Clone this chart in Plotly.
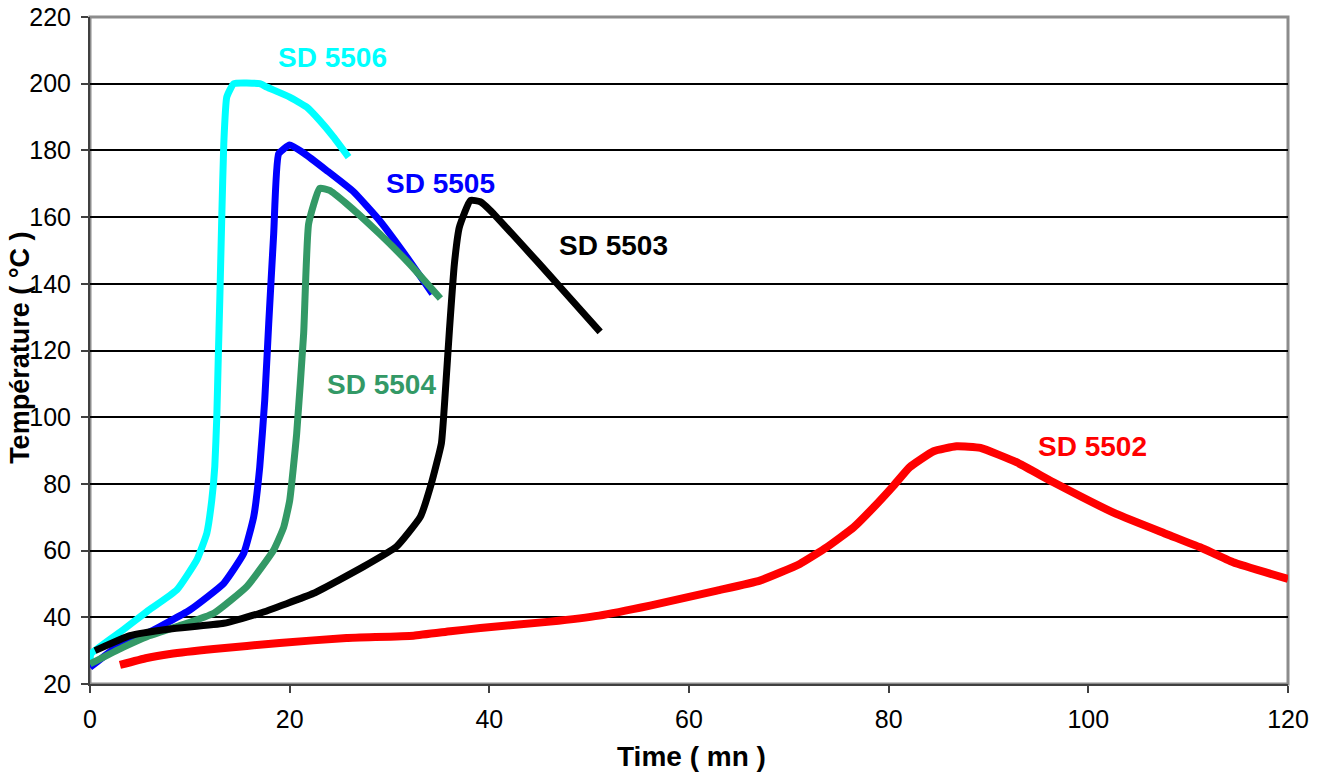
import plotly.graph_objects as go

# ---- data ----
x_5506 = [0, 0.1, 3.3, 5.7, 8.7, 10.7, 11.7, 12.2, 12.5, 12.7, 12.85, 13.0, 13.2, 13.4, 13.7, 14.4, 17.0, 17.7, 20.0, 21.7, 23.0, 24.4, 25.9]
y_5506 = [26, 29, 36.2, 41.7, 48.2, 57.2, 65.2, 75.2, 85.2, 100, 118, 135, 160, 182, 196, 200, 200, 199, 196, 193, 189, 184, 178]

x_5505 = [0, 3.3, 5.7, 10.0, 13.4, 15.4, 16.4, 17.0, 17.5, 17.9, 18.4, 18.9, 20.0, 21.5, 23.7, 26.4, 29.0, 31.5, 34.3]
y_5505 = [25, 32.5, 35.2, 42.2, 50.2, 59.2, 70.2, 85, 105, 128, 155, 179, 181.6, 179, 174, 167.6, 159, 149, 137]

x_5504 = [0, 3.3, 5.7, 9.0, 12.4, 15.7, 18.4, 19.4, 20.0, 20.7, 21.4, 21.9, 23.0, 24.0, 25.7, 29.0, 32.0, 35.1]
y_5504 = [26, 31, 34.2, 37.5, 41.2, 49.2, 60.2, 67, 75, 95, 125, 158, 168.6, 168, 164, 155, 146, 135.6]

x_5503 = [0.5, 4.0, 8.0, 13.4, 17.0, 22.4, 27.4, 30.7, 33.1, 34.2, 35.2, 35.6, 36.0, 36.5, 37.0, 38.1, 39.1, 40.1, 44.7, 47.4, 51.1]
y_5503 = [30, 34.5, 36.5, 38.2, 41.2, 47.2, 55.2, 61.2, 70.2, 80.2, 92.2, 108, 126, 146, 157, 165, 164.6, 162, 147, 138, 125.6]

x_5502 = [3.0, 5.7, 8.0, 12.4, 19.0, 25.7, 32.4, 36.1, 39.1, 46.1, 51.0, 56.1, 62.8, 67.1, 71.1, 73.8, 76.5, 78.5, 80.5, 82.1, 84.5, 86.8, 89.2, 92.8, 96.5, 102.8, 107.8, 111.2, 114.5, 120.0]
y_5502 = [25.7, 27.8, 29.0, 30.5, 32.3, 33.8, 34.5, 35.8, 36.8, 38.7, 40.5, 43.5, 48.0, 51.0, 56.0, 61.0, 67.0, 73.0, 79.5, 85.0, 89.8, 91.3, 90.8, 86.5, 80.5, 71.0, 65.0, 61.0, 56.5, 51.5]

series_names = ["SD 5506", "SD 5505", "SD 5504", "SD 5503", "SD 5502"]
series_colors = ["#00FFFF", "#0000FF", "#339966", "#000000", "#FF0000"]
label_x = [24.3, 35.1, 29.2, 52.4, 100.4]
label_y = [208, 170.2, 109.7, 151.6, 91.1]

x_ticks = [0, 20, 40, 60, 80, 100, 120]
y_ticks = [20, 40, 60, 80, 100, 120, 140, 160, 180, 200, 220]

FONT = "Liberation Sans, Arial, sans-serif"
line_widths = [7, 7, 7, 7, 8]

fig = go.Figure()
data = [(x_5506, y_5506), (x_5505, y_5505), (x_5504, y_5504), (x_5503, y_5503), (x_5502, y_5502)]
for (xs, ys), name, col, lw in zip(data, series_names, series_colors, line_widths):
    fig.add_trace(go.Scatter(x=xs, y=ys, mode="lines", name=name,
                             line=dict(color=col, width=lw, shape="spline", smoothing=0.4),
                             showlegend=False))

for name, col, lx, ly in zip(series_names, series_colors, label_x, label_y):
    fig.add_annotation(x=lx, y=ly, xref="x", yref="y", text="<b>%s</b>" % name,
                       showarrow=False, font=dict(family=FONT, size=28, color=col))

# border of plot area (grey top/right)
fig.add_shape(type="rect", xref="paper", yref="paper", x0=0, y0=0, x1=1, y1=1,
              line=dict(color="#8c8c8c", width=3), layer="below")

fig.add_annotation(xref="paper", yref="paper", x=-0.0584, y=0.504, text="<b>Température ( °C )</b>",
                   textangle=-90, showarrow=False, xanchor="center", yanchor="middle",
                   font=dict(family=FONT, size=27, color="black"))
fig.add_annotation(xref="paper", yref="paper", x=0.502, y=-0.109, text="<b>Time ( mn )</b>",
                   showarrow=False, xanchor="center", yanchor="middle",
                   font=dict(family=FONT, size=28, color="black"))

fig.update_layout(
    width=1326, height=774,
    margin=dict(l=90, r=38, t=17, b=90, autoexpand=False),
    paper_bgcolor="white", plot_bgcolor="white",
    font=dict(family=FONT, size=25, color="black"),
)
fig.update_xaxes(range=[0, 120], tickvals=x_ticks, showgrid=False, zeroline=False, automargin=False,
                 showline=True, linecolor="#404040", linewidth=2,
                 ticks="outside", ticklen=7, tickwidth=1.5, tickcolor="#404040",
                 tickfont=dict(family=FONT, size=25, color="black"), ticklabelstandoff=5)
fig.update_yaxes(range=[20, 220], tickvals=y_ticks, showgrid=True, gridcolor="black", gridwidth=2,
                 zeroline=False, showline=True, linecolor="#404040", linewidth=2, automargin=False,
                 ticks="outside", ticklen=7, tickwidth=1.5, tickcolor="#404040",
                 tickfont=dict(family=FONT, size=25, color="black"), ticklabelstandoff=5)

fig.write_html("out.html", config={"displayModeBar": False},
               post_script="document.body.style.margin='0';document.body.style.overflow='hidden';")
